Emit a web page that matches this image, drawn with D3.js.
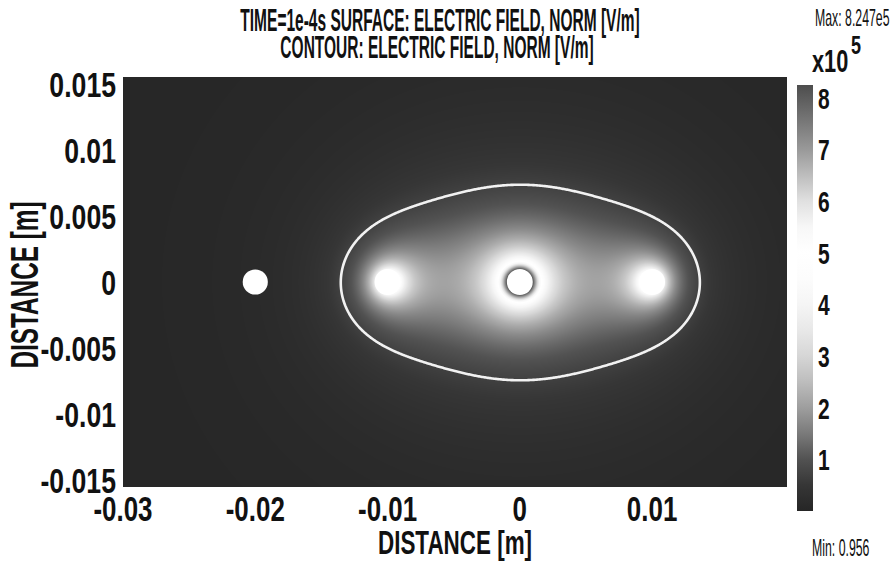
<!DOCTYPE html>
<html>
<head>
<meta charset="utf-8">
<script src="https://cdn.jsdelivr.net/npm/d3@7"></script>
<style>
  html, body { margin: 0; padding: 0; background: #fff; }
  svg { display: block; }
  text { font-family: "Liberation Sans", "DejaVu Sans", sans-serif; fill: #111; }
</style>
</head>
<body>
<svg id="chart" width="894" height="561"></svg>
<script>
// Axis extents and ticks [m] (equal aspect ratio)
const xDomain = [-0.03, 0.0202];
const yDomain = [-0.0155, 0.0155];
const xTicks = [-0.03, -0.02, -0.01, 0, 0.01];
const xTickLabels = ["-0.03", "-0.02", "-0.01", "0", "0.01"];
const yTicks = [0.015, 0.01, 0.005, 0, -0.005, -0.01, -0.015];
const yTickLabels = ["0.015", "0.01", "0.005", "0", "-0.005", "-0.01", "-0.015"];

// Electrodes: centre positions [m], radii [m], relative line charge
const electrodeX = [-0.02, -0.01, 0, 0.01];
const electrodeY = [0, 0, 0, 0];
const electrodeR = [0.00095, 0.00098, 0.00098, 0.00098];
const electrodeQ = [0, -0.5, 1, -0.5];

// Surface range [V/m] and the contour level
const fieldMax = 8.247e5;
const fieldMin = 0.956;
const contourLevel = 0.70e5;

// Colour bar ticks (x10^5)
const colorbarTicks = [1, 2, 3, 4, 5, 6, 7, 8];

// Grey colour map: field (x10^5 V/m) -> grey level
const cmapValues = [0, 0.5, 1, 1.5, 2, 2.5, 3, 3.5, 4, 4.5, 5, 5.5, 6, 6.5, 7, 7.5, 8, 8.25];
const cmapGrey   = [0.15, 0.21, 0.32, 0.48, 0.62, 0.74, 0.84, 0.91, 0.96, 0.99, 1.0, 0.97, 0.88, 0.74, 0.6, 0.48, 0.36, 0.3];

const W = 894, H = 561;
const plot = { left: 123, right: 787, top: 77, bottom: 487 };
const bar = { left: 797, right: 813, top: 85, bottom: 511 };

const svg = d3.select("#chart");
const x = d3.scaleLinear().domain(xDomain).range([plot.left, plot.right]);
const y = d3.scaleLinear().domain(yDomain).range([plot.bottom, plot.top]);

const grey = d3.scaleLinear()
  .domain(cmapValues.map(v => v * 1e5))
  .range(cmapGrey.map(g => d3.rgb(g * 255, g * 255, g * 255).formatHex()))
  .clamp(true);

// Field of the line charges, scaled so the centre electrode surface reaches fieldMax
function rawField(px, py) {
  let ex = 0, ey = 0;
  for (let i = 0; i < electrodeX.length; i++) {
    const dx = px - electrodeX[i], dy = py - electrodeY[i];
    const r2 = Math.max(dx * dx + dy * dy, 1e-12);
    ex += electrodeQ[i] * dx / r2;
    ey += electrodeQ[i] * dy / r2;
  }
  return Math.hypot(ex, ey);
}
const iMain = electrodeQ.indexOf(d3.max(electrodeQ));
const kScale = fieldMax / rawField(electrodeX[iMain] + electrodeR[iMain], electrodeY[iMain]);
const field = (px, py) => kScale * rawField(px, py);

// Surface raster
const pw = plot.right - plot.left, ph = plot.bottom - plot.top;
const canvas = document.createElement("canvas");
canvas.width = pw; canvas.height = ph;
const ctx = canvas.getContext("2d");
const img = ctx.createImageData(pw, ph);
const grid = new Float64Array(pw * ph);
for (let j = 0; j < ph; j++) {
  const py = y.invert(plot.top + j + 0.5);
  for (let i = 0; i < pw; i++) {
    const px = x.invert(plot.left + i + 0.5);
    const v = Math.max(fieldMin, Math.min(fieldMax, field(px, py)));
    grid[j * pw + i] = v;
    const c = d3.rgb(grey(v));
    const k = (j * pw + i) * 4;
    img.data[k] = c.r; img.data[k + 1] = c.g; img.data[k + 2] = c.b; img.data[k + 3] = 255;
  }
}
ctx.putImageData(img, 0, 0);
svg.append("image")
  .attr("x", plot.left).attr("y", plot.top)
  .attr("width", pw).attr("height", ph)
  .attr("preserveAspectRatio", "none")
  .attr("href", canvas.toDataURL());

// Contour line
const contour = d3.contours().size([pw, ph]).thresholds([contourLevel])(Array.from(grid));
svg.append("path")
  .attr("transform", `translate(${plot.left + 0.5},${plot.top + 0.5})`)
  .attr("d", d3.geoPath(d3.geoIdentity())(contour[0]))
  .attr("fill", "none")
  .attr("stroke", "#f2f2f2")
  .attr("stroke-width", 2.6);

// Electrodes (holes in the domain)
svg.append("g").selectAll("ellipse")
  .data(electrodeX.map((cx, i) => ({ cx, cy: electrodeY[i], r: electrodeR[i] })))
  .join("ellipse")
  .attr("cx", d => x(d.cx))
  .attr("cy", d => y(d.cy))
  .attr("rx", d => x(d.r) - x(0))
  .attr("ry", d => y(0) - y(d.r))
  .attr("fill", "#ffffff");

// Condensed text helper
function label(parent, tx, ty, str, size, opts = {}) {
  const g = parent.append("g")
    .attr("transform", `translate(${tx},${ty}) rotate(${opts.rotate || 0}) scale(${opts.sx || 0.68},1)`);
  return g.append("text")
    .attr("text-anchor", opts.anchor || "middle")
    .attr("font-size", size)
    .attr("font-weight", opts.weight || "bold")
    .text(str);
}

// Axes tick labels (no tick marks)
const axisG = svg.append("g");
xTicks.forEach((v, i) => label(axisG, x(v), 521, xTickLabels[i], 36, { sx: 0.72 }));
yTicks.forEach((v, i) => label(axisG, 116, y(v) + 13, yTickLabels[i], 36, { sx: 0.74, anchor: "end" }));

// Axis titles
label(svg, 455, 554, "DISTANCE [m]", 33, { sx: 0.68 });
label(svg, 38, 285, "DISTANCE [m]", 38, { sx: 0.64, rotate: -90 });

// Plot title
label(svg, 440, 31, "TIME=1e-4s  SURFACE: ELECTRIC FIELD, NORM [V/m]", 32, { sx: 0.485 });
label(svg, 437, 58, "CONTOUR: ELECTRIC FIELD, NORM [V/m]", 32, { sx: 0.485 });

// Colour bar
const cb = d3.scaleLinear().domain([fieldMin, fieldMax]).range([bar.bottom, bar.top]);
const defs = svg.append("defs");
const grad = defs.append("linearGradient").attr("id", "cbar")
  .attr("x1", 0).attr("y1", 1).attr("x2", 0).attr("y2", 0);
cmapValues.forEach(v => {
  grad.append("stop")
    .attr("offset", Math.max(0, Math.min(1, (v * 1e5 - fieldMin) / (fieldMax - fieldMin))))
    .attr("stop-color", grey(v * 1e5));
});
svg.append("rect")
  .attr("x", bar.left).attr("y", bar.top)
  .attr("width", bar.right - bar.left).attr("height", bar.bottom - bar.top)
  .attr("fill", "url(#cbar)");
colorbarTicks.forEach(v => label(svg, 818, cb(v * 1e5) + 11, String(v), 30, { sx: 0.7, anchor: "start" }));

// Colour bar exponent and range notes
label(svg, 812, 72, "x10", 32, { sx: 0.68, anchor: "start" });
label(svg, 851, 54, "5", 25, { sx: 0.72, anchor: "start" });
label(svg, 815, 26, "Max: 8.247e5", 23, { sx: 0.535, anchor: "start", weight: "normal" });
label(svg, 812, 556, "Min: 0.956", 23, { sx: 0.535, anchor: "start", weight: "normal" });
</script>
</body>
</html>
